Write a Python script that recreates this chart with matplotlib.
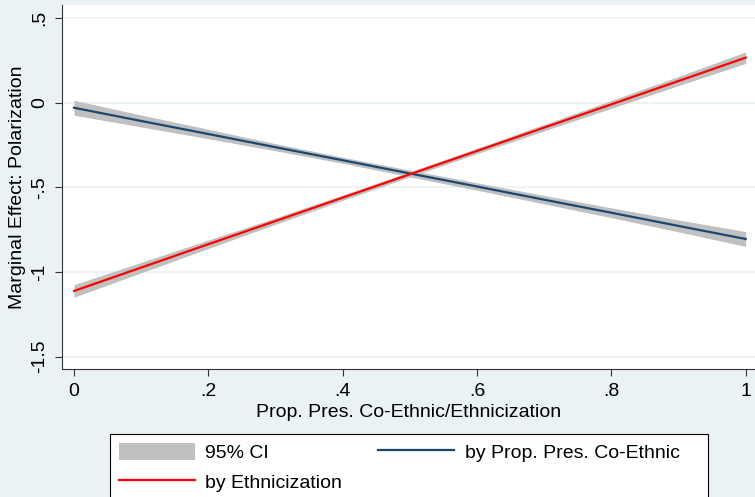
import matplotlib.pyplot as plt
from matplotlib.patches import Rectangle

x_vals = [0.0, 0.1, 0.2, 0.3, 0.4, 0.5, 0.6, 0.7, 0.8, 0.9, 1.0]

coeth_est = [-0.03, -0.108, -0.185, -0.263, -0.34, -0.418, -0.495, -0.573, -0.65, -0.728, -0.805]
coeth_lo = [-0.074, -0.143, -0.213, -0.284, -0.358, -0.438, -0.517, -0.598, -0.679, -0.763, -0.849]
coeth_hi = [0.014, -0.073, -0.157, -0.242, -0.322, -0.398, -0.473, -0.548, -0.621, -0.693, -0.761]

ethn_est = [-1.112, -0.974, -0.836, -0.699, -0.561, -0.423, -0.285, -0.147, -0.01, 0.128, 0.266]
ethn_lo = [-1.149, -1.005, -0.861, -0.718, -0.577, -0.438, -0.301, -0.166, -0.033, 0.101, 0.232]
ethn_hi = [-1.075, -0.943, -0.811, -0.680, -0.545, -0.408, -0.269, -0.128, 0.013, 0.155, 0.300]

xticks = [0, 0.2, 0.4, 0.6, 0.8, 1.0]
xtick_labels = ['0', '.2', '.4', '.6', '.8', '1']
yticks = [-1.5, -1.0, -0.5, 0.0, 0.5]
ytick_labels = ['-1.5', '-1', '-.5', '0', '.5']

bg = '#eaf2f3'
navy = '#1a476f'
ci_gray = '#c0c0c0'

plt.rcParams['font.family'] = ['Liberation Sans', 'DejaVu Sans']
plt.rcParams['font.size'] = 14

fig = plt.figure(figsize=(7.55, 4.97), dpi=100, facecolor=bg)
ax = fig.add_axes([62 / 755, 1 - 369 / 497, 1 - 62 / 755, (369 - 5) / 497])
ax.set_facecolor('white')

# CI bands first, lines on top
ax.fill_between(x_vals, coeth_lo, coeth_hi, color=ci_gray, lw=0, label='95% CI')
ax.fill_between(x_vals, ethn_lo, ethn_hi, color=ci_gray, lw=0)
ax.plot(x_vals, coeth_est, color=navy, lw=1.6, label='by Prop. Pres. Co-Ethnic')
ax.plot(x_vals, ethn_est, color='red', lw=1.6, label='by Ethnicization')

ax.set_xlim(-0.0179, 1.0139)
ax.set_ylim(-1.573, 0.577)

ax.set_xticks(xticks)
ax.set_xticklabels(xtick_labels)
ax.set_yticks(yticks)
ax.set_yticklabels(ytick_labels, rotation=90, va='center')
ax.tick_params(axis='both', length=5, width=0.8, color='#333333', pad=5)
ax.yaxis.grid(True, color=bg, lw=1.2)
ax.set_axisbelow(True)

for s in ['top', 'right']:
    ax.spines[s].set_visible(False)
for s in ['left', 'bottom']:
    ax.spines[s].set_color('#333333')
    ax.spines[s].set_linewidth(0.8)

ax.set_xlabel('Prop. Pres. Co-Ethnic/Ethnicization', labelpad=3)
ax.set_ylabel('Marginal Effect: Polarization', labelpad=4)

# legend box, runs off the bottom edge like in the original
box_l, box_r, box_t = 110 / 755, 707.7 / 755, 1 - 434 / 497
fig.patches.append(Rectangle((box_l, -0.05), box_r - box_l, box_t + 0.05,
                             transform=fig.transFigure, facecolor='white',
                             edgecolor='black', lw=0.8, zorder=1))

handles, labels = ax.get_legend_handles_labels()
order = [0, 2, 1]
leg = fig.legend([handles[i] for i in order], [labels[i] for i in order],
                 ncol=2, loc='upper left', bbox_to_anchor=(box_l, box_t),
                 borderaxespad=0, borderpad=0.45, handlelength=3.9, handleheight=1.0,
                 handletextpad=0.56, columnspacing=1.84, labelspacing=0.55,
                 frameon=False)
leg.set_zorder(2)

fig.savefig('out.png', dpi=100, facecolor=bg)
